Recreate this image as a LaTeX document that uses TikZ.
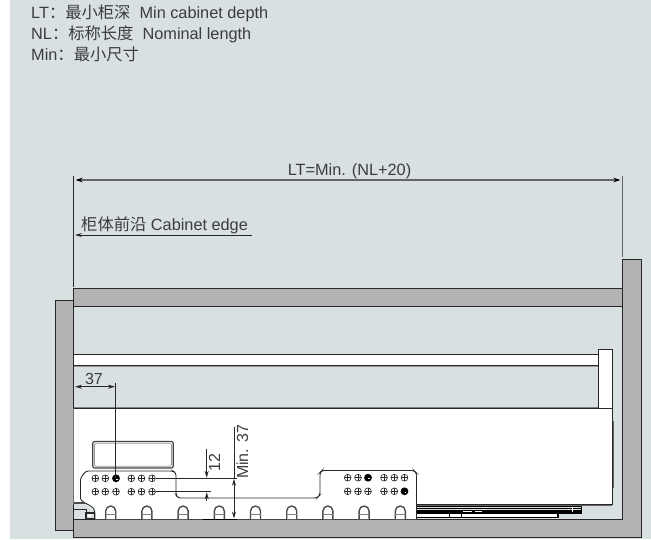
\documentclass[tikz,border=0pt]{standalone}
\usepackage{fontspec}
\setmainfont{Liberation Sans}
\newfontfamily\cjk{Noto Sans CJK SC}
\usetikzlibrary{arrows.meta}
\definecolor{panelbg}{RGB}{216,224,226}
\definecolor{wood}{RGB}{179,179,179}
\definecolor{inkline}{RGB}{40,40,40}
\definecolor{txt}{RGB}{60,60,60}
\tikzset{
  x=1pt,y=-1pt,
  woodpart/.style={fill=wood,draw=inkline,line width=1pt},
  whitepart/.style={fill=white,draw=inkline,line width=1pt},
  dimline/.style={draw=inkline,line width=0.8pt},
  dimtip/.style={{Stealth[length=7pt,width=4pt]}-{Stealth[length=7pt,width=4pt]}},
  lbl/.style={text=txt,font=\fontsize{16.3}{18}\selectfont,inner sep=0pt},
  dimlbl/.style={text=txt,font=\fontsize{16}{18}\selectfont,inner sep=0pt},
  holeline/.style={draw=inkline,line width=0.6pt},
}
\newcommand{\opnhole}[2]{%
  \draw[holeline,fill=white] (#1,#2) circle[radius=3.4pt];
  \draw[holeline] (#1-3.4,#2) -- (#1+3.4,#2) (#1,#2-3.4) -- (#1,#2+3.4);
}
\newcommand{\fullhole}[2]{%
  \fill[black] (#1,#2) circle[radius=3.9pt];
  \fill[white] (#1+0.3,#2+0.3) rectangle (#1+1.6,#2+1.6);
}
\newcommand{\archslot}[1]{%
  \draw[draw=black!70,line width=1.4pt,fill=white]
    (#1-5,519) -- (#1-5,511) arc[start angle=180,end angle=0,radius=5pt] -- (#1+5,519);
  \draw[draw=black!50,line width=0.9pt] (#1-5,514) -- (#1+5,514);
}
\begin{document}
\begin{tikzpicture}
\useasboundingbox (0,0) rectangle (651,539);
\fill[panelbg] (10,0) rectangle (651,539);
% legend
\node[lbl,anchor=base west] (legA) at (31,18) {LT{\cjk：最小柜深}\ \ Min cabinet depth};
\node[lbl,anchor=base west] (legB) at (31,39) {NL{\cjk：标称长度}\ \ Nominal length};
\node[lbl,anchor=base west] (legC) at (31,60) {Min{\cjk：最小尺寸}};
% carcass
\draw[woodpart] (55,300) rectangle (73.5,530);
\draw[woodpart] (73.5,519) -- (622.7,519) -- (622.7,259) -- (641,259) -- (641,537) -- (73.5,537) -- cycle;
\draw[woodpart] (73.5,288) rectangle (622.7,306);
% drawer rail and back post
\draw[whitepart] (73.5,354) rectangle (598,365);
\draw[draw=black!40,line width=1pt] (73.5,366) -- (598,366);
\draw[whitepart] (598,349) rectangle (612,408);
% runners
\fill[white] (416.5,513) rectangle (557.7,517);
\draw[draw=black,line width=1.3pt] (416.5,506) -- (581.5,506) (416.5,508.7) -- (581.5,508.7) (416.5,511) -- (581.5,511) (416.5,513) -- (581.5,513);
\draw[draw=black,line width=1pt] (581.5,505) -- (581.5,513.5);
\draw[draw=black,line width=1.1pt] (416.5,517.5) -- (558,517.5) -- (558,513);
\draw[draw=black,line width=1pt] (449,513) -- (449,517) (461,513) -- (461,517);
\fill[white] (463,510.6) rectangle (472,512.4);
\fill[white] (475,510.6) rectangle (482,512.4);
\draw[draw=white,line width=0.8pt] (572,506.5) -- (572,512);
% drawer side with plate
\fill[white] (73.5,408) -- (612,408) -- (612,504) -- (416.5,504) -- (416.5,519) -- (95,519) -- (95,512) -- (86,504) -- (73.5,504) -- cycle;
\draw[draw=inkline,line width=1pt] (73.5,408) -- (612,408) -- (612,504) -- (416.5,504);
\draw[draw=black!50,line width=0.9pt] (73.5,407.2) -- (598,407.2);
\draw[draw=black!60,line width=0.9pt] (613.4,421) -- (613.4,488);
\draw[draw=black!60,line width=0.9pt] (416.5,505) -- (612,505);
% plate outline
\draw[draw=inkline,line width=0.9pt,rounded corners=2.5pt]
  (95,519) -- (95,512) .. controls (93,507) and (89,505) .. (85,503) .. controls (82,501) and (80.5,499) .. (80.5,496)
  -- (80.5,478) -- (86,471) -- (173,471) -- (176,473) -- (176,495) -- (178,498) -- (317,498) -- (320,495) -- (320,472.5) -- (322,470.5) -- (414,470.5) -- (416.5,473) -- (416.5,519);
% hinge corner
\draw[draw=black!70,line width=1.2pt] (73.5,503) -- (85,503);
\fill[panelbg] (74,509.5) rectangle (85.6,518.6);
\draw[draw=inkline,line width=0.8pt] (73.5,509) -- (86,509) -- (86,519);
\draw[draw=inkline,line width=1.2pt] (86,513) rectangle (94.5,518.6);
\fill[white] (88,514.4) rectangle (91,517.2);
% cut-out
\draw[draw=black!75,line width=1.2pt,rounded corners=2pt] (92.7,441.5) rectangle (173.3,468);
\draw[draw=black!40,line width=0.8pt,rounded corners=1.5pt] (94.4,443.2) rectangle (171.6,466.3);
% arch slots
\archslot{110.7}\archslot{146.9}\archslot{183.1}\archslot{219.3}\archslot{255.5}\archslot{291.7}\archslot{327.9}\archslot{364.1}\archslot{400.3}
% holes
\foreach \hx in {95.3,105.3,131.3,141.5,152}{\opnhole{\hx}{478.3}}
\foreach \hx in {95.3,105.3,116,131.3,141.5,152}{\opnhole{\hx}{491.7}}
\foreach \hx in {347.7,358,384,394.3,404.5}{\opnhole{\hx}{477.7}}
\foreach \hx in {347.7,358,368,384,394.3}{\opnhole{\hx}{491.3}}
\fullhole{116}{478.3}\fullhole{368}{477.7}\fullhole{404.5}{491.3}
% dimension: overall
\coordinate (edgeTop) at (73.5,176);
\coordinate (edgeBot) at (73.5,287);
\coordinate (rightTop) at (622.7,176);
\coordinate (rightBot) at (622.7,257);
\draw[dimline,line width=1pt] (edgeTop) -- (edgeBot);
\draw[draw=black!60,line width=1.2pt] (rightTop) -- (rightBot);
\coordinate (ltA) at (75.5,180);
\coordinate (ltB) at (620.5,180);
\draw[draw=black!60,line width=1.3pt,{Stealth[length=7pt,width=4.5pt,black]}-{Stealth[length=7pt,width=4.5pt,black]}] (ltA) -- (ltB);
\node[lbl,anchor=base] (ltText) at (349.5,175.5) {LT=Min. (NL+20)};
% cabinet edge
\coordinate (ceA) at (75,235);
\coordinate (ceB) at (252,235);
\draw[dimline,{Stealth[length=7pt,width=4pt]}-] (ceA) -- (ceB);
\node[lbl,anchor=base west] (ceText) at (81,230.5) {{\cjk 柜体前沿} Cabinet edge};
% 37 horizontal
\coordinate (hA) at (75,386.7);
\coordinate (hB) at (115,386.7);
\coordinate (vTop) at (115.7,382.7);
\coordinate (vBot) at (115.7,478.3);
\draw[dimline,dimtip] (hA) -- (hB);
\draw[dimline] (vTop) -- (vBot);
\node[dimlbl,anchor=base] (d37) at (94,384) {37};
% 12
\coordinate (t1) at (155.5,478.3);
\coordinate (t2) at (236.7,478.3);
\coordinate (u1) at (155.5,491.7);
\coordinate (u2) at (210.7,491.7);
\draw[dimline] (t1) -- (t2);
\draw[dimline] (u1) -- (u2);
\coordinate (a12top) at (206.7,449);
\coordinate (a12tip) at (206.7,477.8);
\coordinate (b12tail) at (206.7,500.7);
\coordinate (b12tip) at (206.7,492.2);
\draw[dimline,-{Stealth[length=7pt,width=4pt]}] (a12top) -- (a12tip);
\draw[dimline,-{Stealth[length=7pt,width=4pt]}] (b12tail) -- (b12tip);
\node[dimlbl,rotate=90,anchor=base] (d12) at (220,462.5) {12};
% Min. 37
\coordinate (mTop) at (234,426.7);
\coordinate (mMid) at (234,478.8);
\coordinate (mBot) at (234,518.5);
\draw[dimline] (mTop) -- (mMid);
\draw[dimline,dimtip] (mMid) -- (mBot);
\node[dimlbl,rotate=90,anchor=base] (dmin) at (248,452) {Min. 37};
\draw[draw=black,line width=1pt] (203,519) -- (237,519);
\end{tikzpicture}
\end{document}
